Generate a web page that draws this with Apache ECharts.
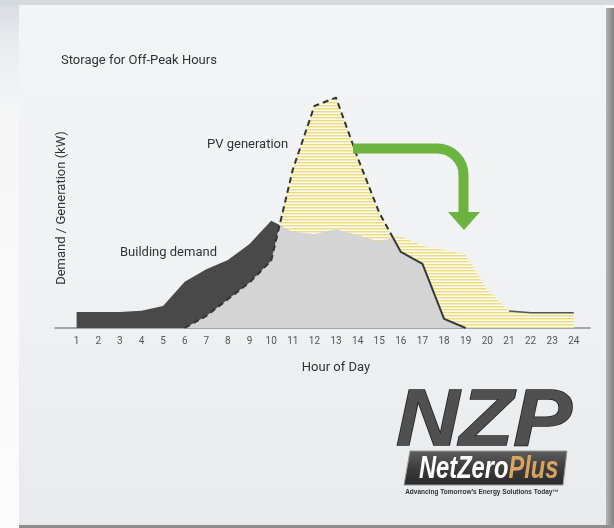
<!DOCTYPE html>
<html>
<head>
<meta charset="utf-8">
<script src="https://cdn.jsdelivr.net/npm/echarts@6/dist/echarts.min.js"></script>
<style>
  body { margin: 0; background: #fff; }
  #wrap { position: relative; width: 614px; height: 528px; overflow: hidden; background: #fafafa; }
  #leftStrip { position: absolute; left: 0; top: 0; width: 19px; height: 528px;
    background: linear-gradient(#d6dbe1 0px, #e8ebee 40px, #f7f7f7 120px, #fbfbfb 528px); }
  #topStrip { position: absolute; left: 0; top: 0; width: 614px; height: 5px; background: #d4d9de; }
  #panel { position: absolute; left: 19px; top: 5px; width: 587px; height: 520px;
    background: linear-gradient(#f3f4f5 0px, #f1f2f3 260px, #e9eaeb 520px); }
  #rightShadow { position: absolute; left: 606px; top: 8px; width: 8px; height: 520px;
    background: linear-gradient(to right, #b4b4b4, #7e7e7e); }
  #bottomShadow { position: absolute; left: 19px; top: 525px; width: 595px; height: 3px; background: #8e8e8e; }
  #chart { position: absolute; left: 0; top: 0; width: 614px; height: 528px; }
</style>
</head>
<body>
<div id="wrap">
  <div id="leftStrip"></div>
  <div id="topStrip"></div>
  <div id="panel"></div>
  <div id="rightShadow"></div>
  <div id="bottomShadow"></div>
  <div id="chart"></div>
</div>
<script>
// hour of day and the two curves (kW)
const hours = [1, 2, 3, 4, 5, 6, 7, 8, 9, 10, 11, 12, 13, 14, 15, 16, 17, 18, 19, 20, 21, 22, 23, 24];
const demand = [6.7, 6.7, 6.7, 7.2, 9.2, 19.3, 24.5, 28.3, 35, 44.7, 40.1, 39.2, 41.1, 38.8, 36, 38.3, 34.2, 32.5, 30.4, 15.8, 7.1, 6.4, 6.4, 6.4];
const pvHours = [6, 7, 8, 9, 10, 11, 12, 13, 14, 15, 16, 17, 18, 19];
const pvGen = [0, 5, 12, 19, 28, 66, 92.5, 96, 71, 48, 31.7, 26.7, 3.8, 0];

function pvAt(h) {
  const i = pvHours.indexOf(h);
  return i < 0 ? 0 : pvGen[i];
}

// points per hour, plus the places where the two curves cross
const pts = [];
const crossings = [];
hours.forEach((h, i) => {
  const d = demand[i], p = pvAt(h);
  if (i > 0) {
    const d0 = demand[i - 1], p0 = pvAt(hours[i - 1]);
    const a = d0 - p0, b = d - p;
    if (a * b < 0) {
      const t = a / (a - b);
      const x = hours[i - 1] + t * (h - hours[i - 1]);
      const y = d0 + t * (d - d0);
      pts.push({ x: x, d: y, p: y });
      crossings.push(x);
    }
  }
  pts.push({ x: h, d: d, p: p });
});
const c1 = crossings[0], c2 = crossings[1];
const pvStart = pvHours[0], pvEnd = pvHours[pvHours.length - 1];

const darkData = pts.filter(o => o.x <= c1).map(o => [o.x, o.d]);
const grayData = pts.filter(o => o.x >= pvStart && o.x <= pvEnd).map(o => [o.x, Math.min(o.d, o.p)]);
const yellowData = pts.filter(o => o.x >= c1).map(o => [o.x, Math.max(o.d, o.p)]);
const pvDashData = pts.filter(o => o.x >= pvStart && o.x <= c2).map(o => [o.x, o.p]);
const pvSolidData = pts.filter(o => o.x >= c2 && o.x <= pvEnd).map(o => [o.x, o.p]);
const demandTail = pts.filter(o => o.x >= 21).map(o => [o.x, o.d]);

// horizontal yellow hatch
const hatch = document.createElement('canvas');
hatch.width = 8; hatch.height = 3;
const hc = hatch.getContext('2d');
hc.fillStyle = '#fdfbef'; hc.fillRect(0, 0, 8, 3);
hc.fillStyle = '#ecdc80'; hc.fillRect(0, 0, 8, 1);
hc.fillStyle = '#f7eebf'; hc.fillRect(0, 1, 8, 1);

const chart = echarts.init(document.getElementById('chart'));
const font = 'Roboto';
const green = '#6cb43f';

chart.setOption({
  backgroundColor: 'transparent',
  animation: false,
  title: {
    text: 'Storage for Off-Peak Hours',
    left: 56, top: 49,
    textStyle: { fontSize: 13, fontWeight: 'normal', color: '#333', fontFamily: font }
  },
  grid: { left: 55, right: 24, top: 88, bottom: 200 },
  xAxis: {
    type: 'value', min: 0, max: 24.75, interval: 1,
    axisLine: { lineStyle: { color: '#8c8c8c', width: 1.5 } },
    axisTick: { show: false },
    splitLine: { show: false },
    axisLabel: {
      color: '#555', fontSize: 10, margin: 8, fontFamily: font,
      formatter: v => (v >= 1 && v <= 24 && v % 1 === 0) ? String(v) : ''
    },
    name: 'Hour of Day', nameLocation: 'middle', nameGap: 33,
    nameTextStyle: { fontSize: 13, color: '#333', fontFamily: font, padding: [0, 0, 0, 27] }
  },
  yAxis: {
    type: 'value', min: 0, max: 100,
    axisLine: { show: false }, axisTick: { show: false },
    axisLabel: { show: false }, splitLine: { show: false },
    name: 'Demand / Generation (kW)', nameLocation: 'middle', nameRotate: 90, nameGap: -13,
    nameTextStyle: { fontSize: 13, color: '#333', fontFamily: font }
  },
  series: [
    {
      name: 'Stored PV', type: 'line', data: yellowData, z: 2,
      showSymbol: false, lineStyle: { width: 0 },
      areaStyle: { color: { image: hatch, repeat: 'repeat' }, opacity: 1 }
    },
    {
      name: 'Grid demand', type: 'line', data: darkData, z: 3,
      showSymbol: false, lineStyle: { width: 0 },
      areaStyle: { color: '#494949', opacity: 1 }
    },
    {
      name: 'PV to building', type: 'line', data: grayData, z: 4,
      showSymbol: false, lineStyle: { width: 0 },
      areaStyle: { color: '#d4d4d4', opacity: 1 }
    },
    {
      name: 'PV generation', type: 'line', data: pvDashData, z: 5,
      showSymbol: false,
      lineStyle: { color: '#333', width: 2, type: [6, 4] }
    },
    {
      name: 'PV generation tail', type: 'line', data: pvSolidData, z: 5,
      showSymbol: false,
      lineStyle: { color: '#3a3a3a', width: 2 }
    },
    {
      name: 'Building demand', type: 'line', data: demandTail, z: 5,
      showSymbol: false,
      lineStyle: { color: '#555', width: 1.5 }
    }
  ],
  graphic: [
    { type: 'text', x: 207, y: 145, z: 10,
      style: { text: 'PV generation', font: '13px Roboto', fill: '#333', verticalAlign: 'middle' } },
    { type: 'text', x: 120, y: 253, z: 10,
      style: { text: 'Building demand', font: '13px Roboto', fill: '#333', verticalAlign: 'middle' } },
    // green arrow
    { type: 'polyline', z: 10,
      shape: { points: [[353, 148.5], [437.5, 148.5]] },
      style: { stroke: green, lineWidth: 10, fill: null } },
    { type: 'arc', z: 10,
      shape: { cx: 437, cy: 175, r: 26.5, startAngle: -Math.PI / 2, endAngle: 0, clockwise: true },
      style: { stroke: green, lineWidth: 10, fill: null } },
    { type: 'polyline', z: 10,
      shape: { points: [[463.5, 174.5], [463.5, 214]] },
      style: { stroke: green, lineWidth: 10, fill: null } },
    { type: 'polygon', z: 10,
      shape: { points: [[448, 212], [480, 212], [464, 230]] },
      style: { fill: green } },
    // logo
    { type: 'text', x: 396, y: 423, scaleX: 1.1, z: 10,
      style: {
        text: 'NZP', font: 'italic bold 80px "Liberation Sans"', verticalAlign: 'middle',
        fill: '#505050', stroke: '#1e1e1e', lineWidth: 1.5
      } },
    { type: 'polygon', z: 10,
      shape: { points: [[410, 451], [567, 451], [563, 485], [404, 485]] },
      style: {
        fill: new echarts.graphic.LinearGradient(0, 451, 0, 485, [
          { offset: 0, color: '#5e5e5e' }, { offset: 0.5, color: '#3c3c3c' }, { offset: 1, color: '#2a2a2a' }
        ], true),
        stroke: '#9a9a9a', lineWidth: 1
      } },
    { type: 'text', x: 419, y: 469, scaleX: 0.74, z: 11,
      style: {
        text: '{w|NetZero}{g|Plus}', verticalAlign: 'middle',
        rich: {
          w: { fill: '#ffffff', fontSize: 32, fontStyle: 'italic', fontWeight: 'bold', fontFamily: 'Liberation Sans' },
          g: { fill: '#d9a461', fontSize: 32, fontStyle: 'italic', fontWeight: 'bold', fontFamily: 'Liberation Sans' }
        }
      } },
    { type: 'text', x: 482, y: 492, z: 10,
      style: { text: 'Advancing Tomorrow\u2019s Energy Solutions Today\u2122', font: 'bold 6.5px "Liberation Sans"',
        fill: '#333', align: 'center', verticalAlign: 'middle' } }
  ]
});
</script>
</body>
</html>
